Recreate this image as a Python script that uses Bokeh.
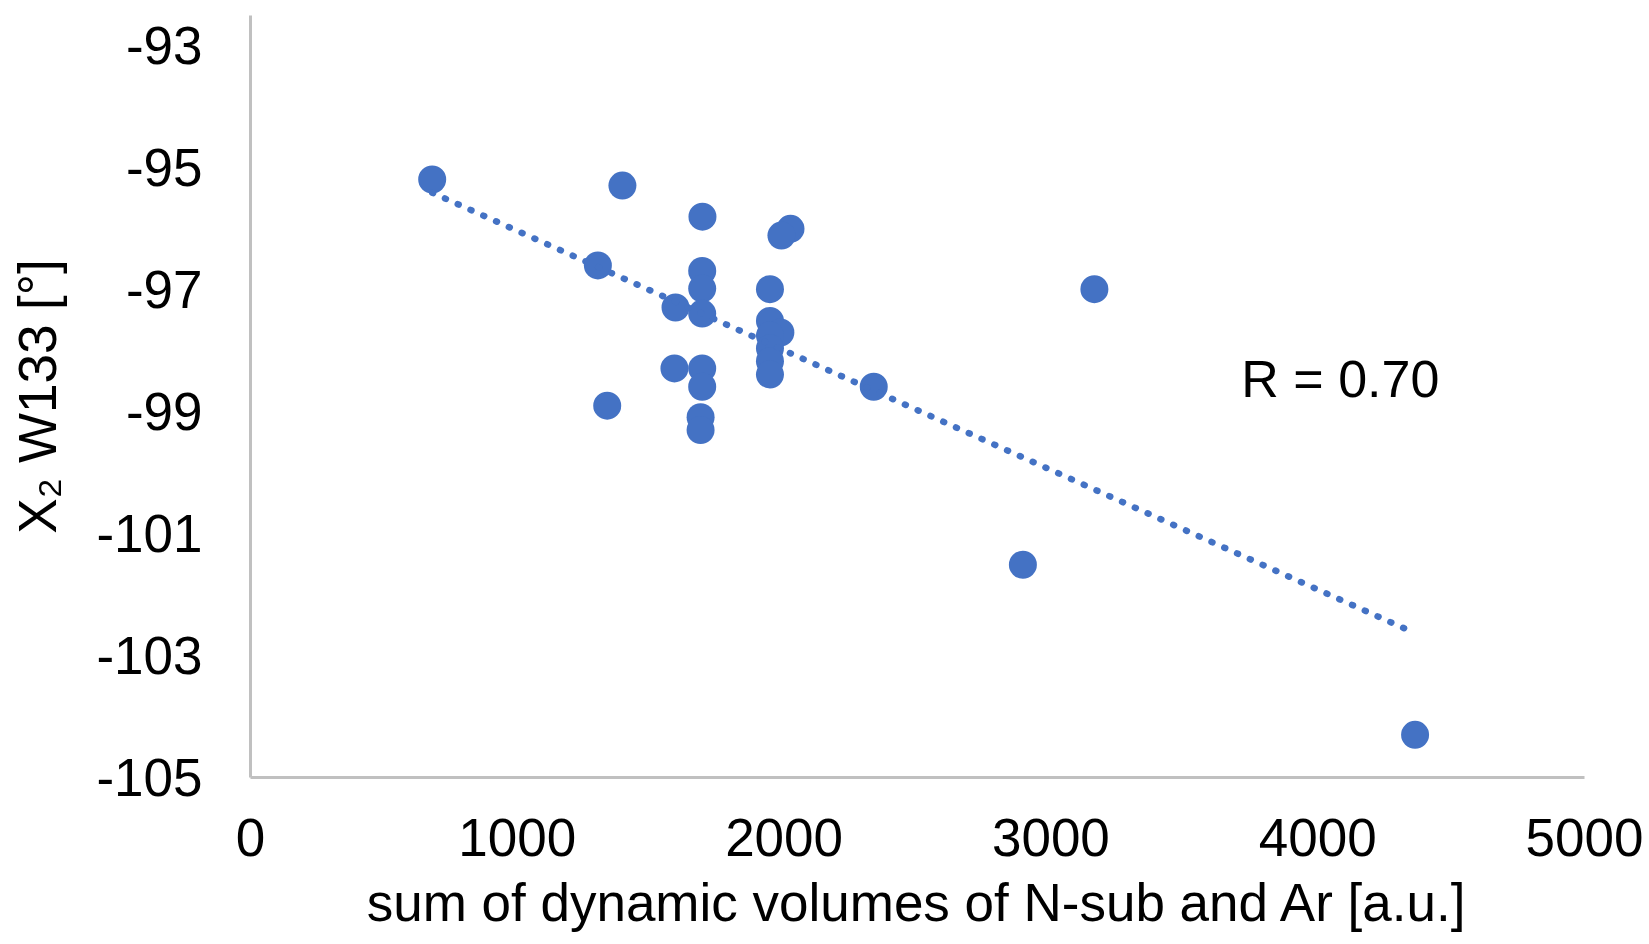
import numpy as np
from bokeh.plotting import figure
from bokeh.models import Range1d, FixedTicker, ColumnDataSource, Title
from bokeh.core.properties import value
from bokeh.embed import file_html
from bokeh.resources import INLINE

# ---- data ----
dyn_volume = [681, 1394, 1694, 2024, 1990, 1302, 1693, 1693, 1947, 3163,
              1593, 1693, 1947, 1986, 1947, 1947, 1947, 1947, 1589, 1693,
              1693, 2336, 1337, 1687, 1687, 2895, 4365]
chi2_w133 = [-95.19, -95.29, -95.80, -96.00, -96.11, -96.60, -96.69, -96.98, -96.99, -96.99,
             -97.29, -97.39, -97.51, -97.70, -97.75, -97.96, -98.17, -98.39, -98.29, -98.29,
             -98.59, -98.59, -98.90, -99.09, -99.30, -101.51, -104.30]

x_ticks = [0, 1000, 2000, 3000, 4000, 5000]
x_tick_labels = ["0", "1000", "2000", "3000", "4000", "5000"]
y_ticks = [-105, -103, -101, -99, -97, -95, -93]
y_tick_labels = ["-105", "-103", "-101", "-99", "-97", "-95", "-93"]

r_text = "R = 0.70"
r_pos = (4085, -98.46)

x_title = "sum of dynamic volumes of N-sub and Ar [a.u.]"
y_title = "X\u2082 W133 [\u00b0]"

BLUE = "#4472C4"
FONT = "Liberation Sans"

# ---- linear trend line (least squares over the data range) ----
slope, intercept = np.polyfit(dyn_volume, chi2_w133, 1)
trend_x = [min(dyn_volume), max(dyn_volume)]
trend_y = [slope * v + intercept for v in trend_x]

p = figure(width=1649, height=944, output_backend="svg", toolbar_location=None,
           x_range=Range1d(0, 5000), y_range=Range1d(-105, -92.5),
           min_border_left=250, min_border_right=65,
           min_border_top=15, min_border_bottom=167)

p.xgrid.visible = False
p.ygrid.visible = False
p.outline_line_color = None
p.background_fill_color = "white"
p.border_fill_color = "white"

p.xaxis.ticker = FixedTicker(ticks=x_ticks)
p.yaxis.ticker = FixedTicker(ticks=y_ticks)
p.xaxis.major_label_overrides = {t: l for t, l in zip(x_ticks, x_tick_labels)}
p.yaxis.major_label_overrides = {t: l for t, l in zip(y_ticks, y_tick_labels)}

for ax in (p.xaxis[0], p.yaxis[0]):
    ax.axis_line_color = "#c0c0c0"
    ax.axis_line_width = 3
    ax.major_tick_line_color = None
    ax.minor_tick_line_color = None
    ax.major_tick_out = 0
    ax.major_tick_in = 0
    ax.major_label_text_font = FONT
    ax.major_label_text_font_size = "53px"
    ax.major_label_text_color = "black"
    ax.axis_label_text_font = FONT
    ax.axis_label_text_font_size = "53px"
    ax.axis_label_text_font_style = "normal"
    ax.axis_label_text_color = "black"

p.yaxis.axis_label = y_title
p.xaxis.major_label_standoff = 41
p.yaxis.major_label_standoff = 48
p.yaxis.axis_label_standoff = 26

# x-axis title as a layout title beneath the x axis
p.add_layout(Title(text=x_title, align="center", text_font=FONT,
                   text_font_size="53px", text_font_style="normal",
                   text_line_height=0.6,
                   text_color="black", standoff=24, offset=0), "below")

src = ColumnDataSource(dict(x=dyn_volume, y=chi2_w133))
p.scatter("x", "y", source=src, size=28, fill_color=BLUE, line_color=BLUE, line_width=0)

p.line(trend_x, trend_y, line_color=BLUE, line_width=6.5, line_dash="1 13", line_cap="round")

p.text(x=[r_pos[0]], y=[r_pos[1]], text=[r_text], text_font=value(FONT),
       text_font_size="52px", text_color="black", text_align="center",
       text_baseline="middle")

open("out.html", "w").write(file_html(p, INLINE))
